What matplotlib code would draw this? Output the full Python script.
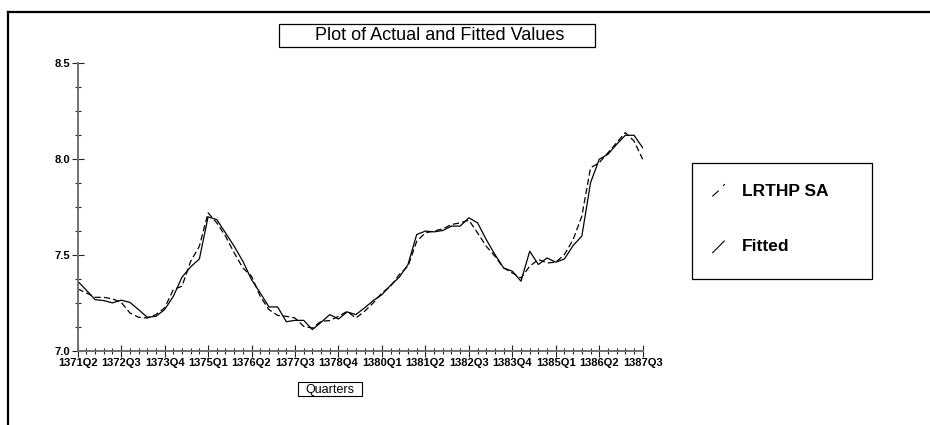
import matplotlib
matplotlib.use("Agg")
import matplotlib.pyplot as plt
from matplotlib.patches import Rectangle
from matplotlib.lines import Line2D
from matplotlib.ticker import MultipleLocator

plt.rcParams['font.family'] = ['Liberation Sans', 'DejaVu Sans']

# quarterly series, 1371Q2 .. 1387Q3 (66 quarters)
lrthp_sa = [7.322, 7.301, 7.278, 7.278, 7.270, 7.252, 7.197, 7.174, 7.170, 7.188,
            7.223, 7.318, 7.336, 7.466, 7.544, 7.718, 7.666, 7.597, 7.510, 7.431,
            7.388, 7.283, 7.214, 7.184, 7.179, 7.170, 7.127, 7.118, 7.153, 7.157,
            7.179, 7.205, 7.170, 7.205, 7.249, 7.301, 7.336, 7.397, 7.440, 7.570,
            7.614, 7.623, 7.635, 7.657, 7.666, 7.680, 7.614, 7.544, 7.492, 7.431,
            7.405, 7.379, 7.440, 7.475, 7.457, 7.461, 7.501, 7.579, 7.701, 7.953,
            7.979, 8.031, 8.083, 8.136, 8.092, 7.997]
fitted = [7.362, 7.315, 7.266, 7.261, 7.249, 7.263, 7.252, 7.214, 7.174, 7.179,
          7.214, 7.283, 7.383, 7.437, 7.478, 7.697, 7.683, 7.614, 7.544, 7.466,
          7.370, 7.301, 7.228, 7.228, 7.151, 7.158, 7.158, 7.110, 7.148, 7.188,
          7.165, 7.202, 7.188, 7.223, 7.261, 7.292, 7.341, 7.383, 7.449, 7.605,
          7.623, 7.619, 7.626, 7.649, 7.649, 7.692, 7.666, 7.579, 7.501, 7.431,
          7.414, 7.362, 7.518, 7.449, 7.483, 7.461, 7.478, 7.548, 7.597, 7.875,
          7.997, 8.023, 8.075, 8.122, 8.122, 8.057]
tick_labels = ['1371Q2', '1372Q3', '1373Q4', '1375Q1', '1376Q2', '1377Q3', '1378Q4',
               '1380Q1', '1381Q2', '1382Q3', '1383Q4', '1385Q1', '1386Q2', '1387Q3']
y_ticks = [7.0, 7.5, 8.0, 8.5]
series_names = ['LRTHP SA', 'Fitted']

W, H = 930, 425
fig = plt.figure(figsize=(W / 100, H / 100), dpi=100)

def fx(px):
    return px / W

def fy(py):
    return 1 - py / H

ax = fig.add_axes([fx(77.7), fy(350.7), fx(642.7 - 77.7), (350.7 - 62.7) / H])
x = list(range(len(fitted)))
ax.plot(x, lrthp_sa, color='black', lw=0.9, dashes=(5, 2.5))
ax.plot(x, fitted, color='black', lw=0.9)

ax.set_xlim(0, len(fitted) - 1)
ax.set_ylim(7.0, 8.5)
ax.spines['top'].set_visible(False)
ax.spines['right'].set_visible(False)
for s in ('left', 'bottom'):
    ax.spines[s].set_color('#707070')
    ax.spines[s].set_linewidth(1.4)

ax.set_xticks(range(0, len(fitted), 5))
ax.set_xticklabels(tick_labels)
ax.xaxis.set_minor_locator(MultipleLocator(1))
ax.set_yticks(y_ticks)
ax.set_yticklabels(['%.1f' % v for v in y_ticks])
ax.yaxis.set_minor_locator(MultipleLocator(0.125))
ax.tick_params(which='major', direction='inout', length=8.6, width=0.8, color='#222222',
               labelsize=8, pad=1)
ax.tick_params(which='minor', direction='inout', length=4.5, width=0.8, color='#222222')
for lab in ax.get_xticklabels() + ax.get_yticklabels():
    lab.set_fontweight('bold')

# outer frame (top and left edges)
fig.add_artist(Line2D([fx(8), 1], [fy(12), fy(12)], color='black', lw=1.6,
                      transform=fig.transFigure))
fig.add_artist(Line2D([fx(8), fx(8)], [fy(12), 0], color='black', lw=1.6,
                      transform=fig.transFigure))

# title box
fig.add_artist(Rectangle((fx(279), fy(47)), fx(595 - 279), (47 - 24) / H, fill=False,
                         ec='black', lw=0.9, transform=fig.transFigure))
fig.text(fx(440), fy(35.5), 'Plot of Actual and Fitted Values', ha='center', va='center',
         fontsize=13)

# x label box
fig.add_artist(Rectangle((fx(298), fy(396)), fx(362 - 298), (396 - 382) / H, fill=False,
                         ec='black', lw=0.8, transform=fig.transFigure))
fig.text(fx(330), fy(389.5), 'Quarters', ha='center', va='center', fontsize=9)

# legend box
fig.add_artist(Rectangle((fx(691.7), fy(279)), fx(872.3 - 691.7), (279 - 163.3) / H,
                         fill=False, ec='black', lw=0.9, transform=fig.transFigure))
fig.add_artist(Line2D([fx(712.7), fx(718.3)], [fy(196), fy(191)], color='black', lw=0.8,
                      transform=fig.transFigure))
fig.add_artist(Line2D([fx(723.5), fx(724.5)], [fy(185.5), fy(184.5)], color='black', lw=0.8,
                      transform=fig.transFigure))
fig.add_artist(Line2D([fx(712.7), fx(724.3)], [fy(252.7), fy(241)], color='black', lw=0.8,
                      transform=fig.transFigure))
fig.text(fx(741.7), fy(191), series_names[0], ha='left', va='center', fontsize=12.5,
         fontweight='bold')
fig.text(fx(741.7), fy(246.7), series_names[1], ha='left', va='center', fontsize=12.5,
         fontweight='bold')

fig.savefig('out.png', dpi=100)
